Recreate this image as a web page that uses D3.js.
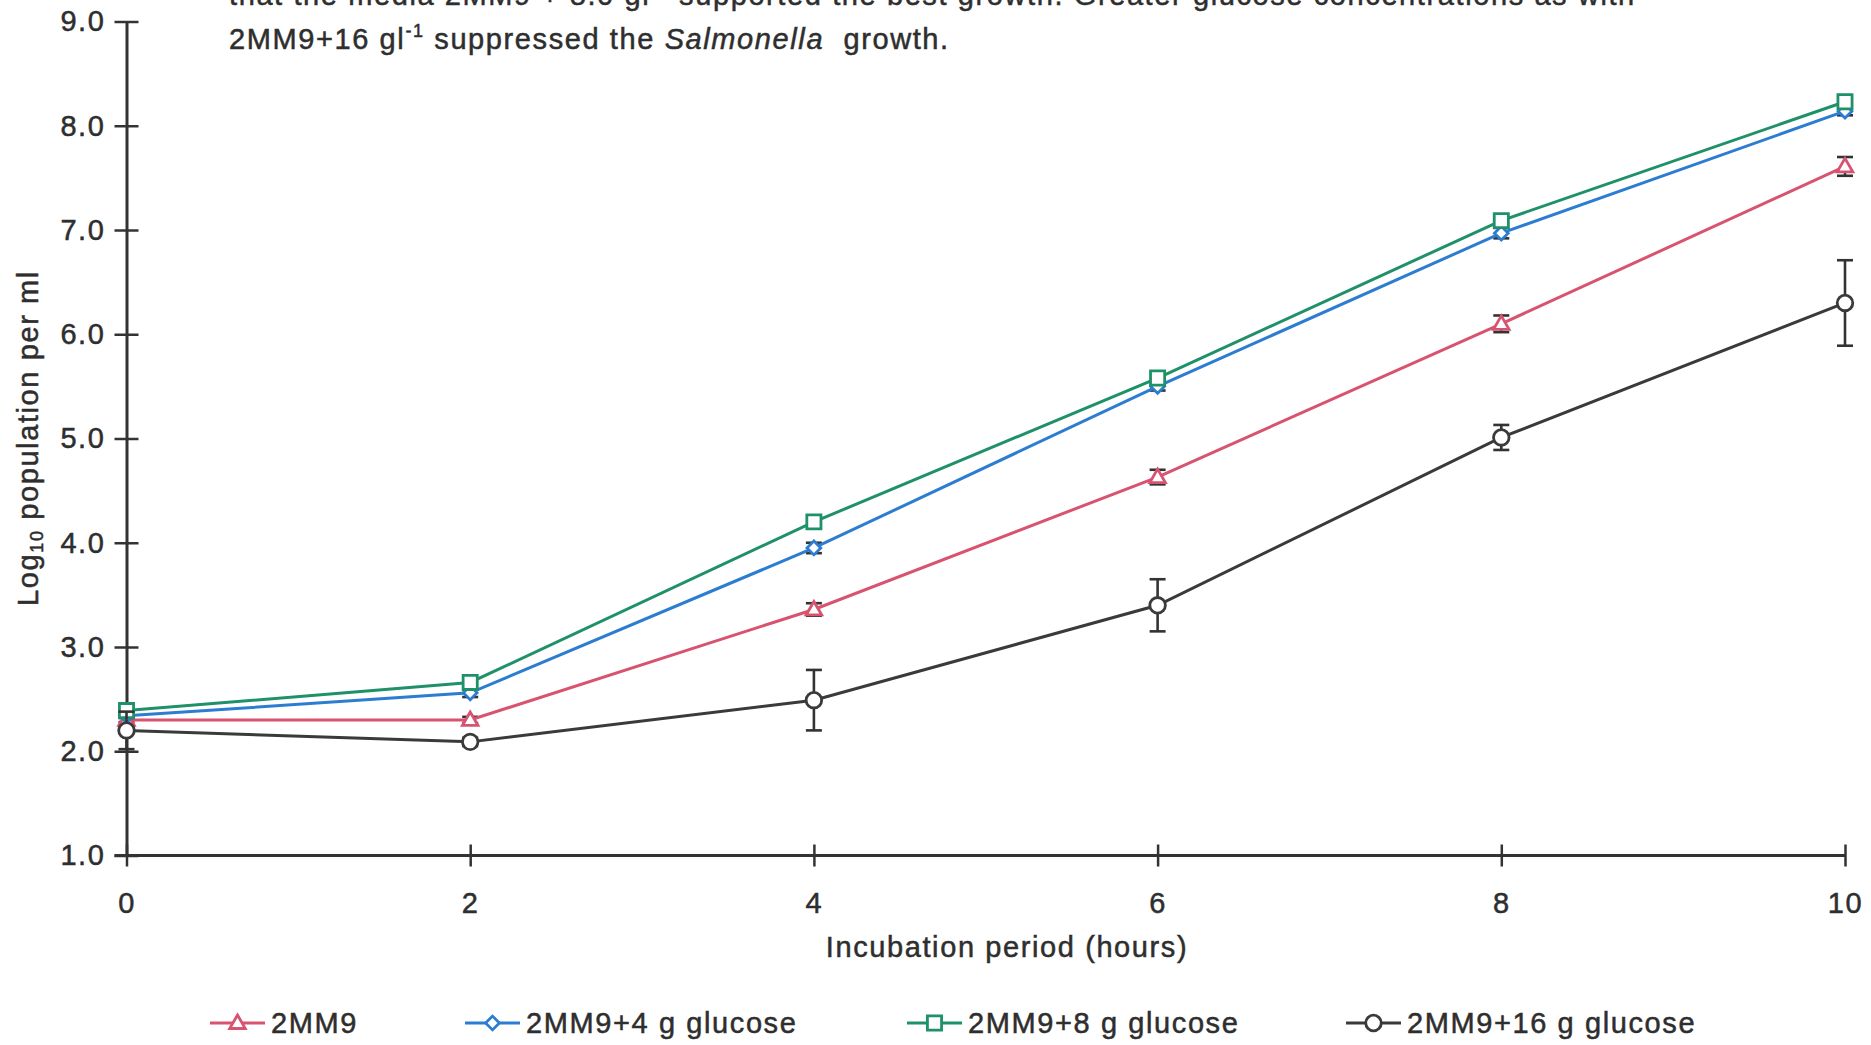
<!DOCTYPE html>
<html>
<head>
<meta charset="utf-8">
<script src="https://cdn.jsdelivr.net/npm/d3@7"></script>
<style>
  html, body { margin: 0; padding: 0; background: #fff; }
  svg { display: block; }
  text { font-family: "Liberation Sans", Arial, Helvetica, sans-serif; fill: #2e2e2e; stroke: #2e2e2e; stroke-width: 0.5px; letter-spacing: 1.6px; }
</style>
</head>
<body>
<script>
// ---------- data ----------
const hours = [0, 2, 4, 6, 8, 10];
const yTickValues = [1, 2, 3, 4, 5, 6, 7, 8, 9];
const seriesNames = ["2MM9", "2MM9+4 g glucose", "2MM9+8 g glucose", "2MM9+16 g glucose"];
const mm9      = [2.30, 2.30, 3.36, 4.63, 6.10, 7.61];
const mm9Err   = [0.02, 0.03, 0.06, 0.07, 0.08, 0.09];
const glu4     = [2.34, 2.56, 3.95, 5.50, 6.97, 8.14];
const glu4Err  = [0.02, 0.04, 0.05, 0.04, 0.05, 0.04];
const glu8     = [2.39, 2.66, 4.20, 5.58, 7.09, 8.23];
const glu8Err  = [0.00, 0.00, 0.00, 0.00, 0.00, 0.00];
const glu16    = [2.20, 2.09, 2.49, 3.40, 5.01, 6.30];
const glu16Err = [0.18, 0.04, 0.29, 0.25, 0.12, 0.41];
const xTitle = "Incubation period (hours)";
const captionLine1 = "that the media 2MM9 + 8.0 gl";
const captionLine1b = " supported the best growth. Greater glucose concentrations as with";
const captionLine2a = "2MM9+16 gl";
const captionLine2b = " suppressed the ";
const captionLine2c = "Salmonella";
const captionLine2d = "  growth.";

// ---------- setup ----------
const W = 1871, H = 1045;
const svg = d3.select("body").append("svg").attr("width", W).attr("height", H);

const x = d3.scaleLinear().domain([0, 10]).range([126.5, 1845]);
const y = d3.scaleLinear().domain([1, 9]).range([855.5, 21.5]);

const colors = ["#d8536f", "#2c7dd2", "#1f9168", "#3a3a3a"];
const values = [mm9, glu4, glu8, glu16];
const errs = [mm9Err, glu4Err, glu8Err, glu16Err];
const axisColor = "#333";
const fontSize = 29;

// ---------- caption text at top ----------
const cap1 = svg.append("text").attr("x", 229).attr("y", 5).attr("font-size", fontSize);
cap1.append("tspan").text(captionLine1);
cap1.append("tspan").attr("font-size", 18).attr("dy", -12).text("-1");
cap1.append("tspan").attr("dy", 12).text(captionLine1b);

const cap2 = svg.append("text").attr("x", 229).attr("y", 49).attr("font-size", fontSize);
cap2.append("tspan").text(captionLine2a);
cap2.append("tspan").attr("font-size", 18).attr("dy", -12).text("-1");
cap2.append("tspan").attr("dy", 12).text(captionLine2b);
cap2.append("tspan").attr("font-style", "italic").text(captionLine2c);
cap2.append("tspan").attr("xml:space", "preserve").text(captionLine2d);

// ---------- axes ----------
const yAxis = d3.axisLeft(y).tickValues(yTickValues).tickFormat(d3.format(".1f"))
  .tickSizeOuter(0).tickSizeInner(12).tickPadding(10);
const gy = svg.append("g").attr("transform", `translate(${x(0)},0)`).call(yAxis);
gy.select(".domain").attr("stroke", axisColor).attr("stroke-width", 3);
gy.selectAll(".tick line").attr("x1", -12).attr("x2", 12).attr("stroke", axisColor).attr("stroke-width", 2.5);
gy.selectAll(".tick text").attr("font-size", fontSize).attr("font-family", "Liberation Sans, Arial, sans-serif")
  .attr("fill", "#2e2e2e").attr("x", -21);

const xAxis = d3.axisBottom(x).tickValues(hours).tickFormat(d3.format("d"))
  .tickSizeOuter(0).tickSizeInner(12).tickPadding(10);
const gx = svg.append("g").attr("transform", `translate(0,${y(1)})`).call(xAxis);
gx.select(".domain").attr("stroke", axisColor).attr("stroke-width", 3)
  .attr("d", `M${x(0) - 12},0H${x(10)}`);
gx.selectAll(".tick line").attr("y1", -11).attr("y2", 11).attr("stroke", axisColor).attr("stroke-width", 2.5);
gx.selectAll(".tick text").attr("font-size", fontSize).attr("font-family", "Liberation Sans, Arial, sans-serif")
  .attr("fill", "#2e2e2e").attr("y", 37);

// axis titles
svg.append("text").attr("x", 1007).attr("y", 957).attr("text-anchor", "middle")
  .attr("font-size", fontSize).text(xTitle);

const yt = svg.append("text").attr("transform", `translate(38,438) rotate(-90)`)
  .attr("text-anchor", "middle").attr("font-size", fontSize);
yt.append("tspan").text("Log");
yt.append("tspan").attr("font-size", 18).attr("dy", 5).text("10");
yt.append("tspan").attr("dy", -5).text(" population per ml");

// ---------- markers ----------
function marker(g, i) {
  const c = colors[i];
  if (i === 0) {
    g.append("path").attr("d", d3.symbol().type(d3.symbolTriangle).size(105)())
      .attr("transform", "translate(0,1)");
  } else if (i === 1) {
    g.append("path").attr("d", d3.symbol().type(d3.symbolSquare).size(95)())
      .attr("transform", "rotate(45)");
  } else if (i === 2) {
    g.append("path").attr("d", d3.symbol().type(d3.symbolSquare).size(200)());
  } else {
    g.append("path").attr("d", d3.symbol().type(d3.symbolCircle).size(190)());
  }
  g.selectAll("path").attr("fill", "#fff").attr("stroke", c).attr("stroke-width", 2.8);
}

const line = d3.line().x((d, j) => x(hours[j])).y(d => y(d));

values.forEach((vals, i) => {
  const g = svg.append("g");
  // error bars
  const eb = g.append("g").selectAll("g").data(vals.map((v, j) => ({ v, e: errs[i][j], h: hours[j] })))
    .join("g").filter(d => d.e > 0);
  eb.append("line").attr("x1", d => x(d.h)).attr("x2", d => x(d.h))
    .attr("y1", d => y(d.v - d.e)).attr("y2", d => y(d.v + d.e))
    .attr("stroke", axisColor).attr("stroke-width", 2.6);
  eb.append("line").attr("x1", d => x(d.h) - 8).attr("x2", d => x(d.h) + 8)
    .attr("y1", d => y(d.v + d.e)).attr("y2", d => y(d.v + d.e))
    .attr("stroke", axisColor).attr("stroke-width", 2.6);
  eb.append("line").attr("x1", d => x(d.h) - 8).attr("x2", d => x(d.h) + 8)
    .attr("y1", d => y(d.v - d.e)).attr("y2", d => y(d.v - d.e))
    .attr("stroke", axisColor).attr("stroke-width", 2.6);
  // line
  g.append("path").datum(vals).attr("d", line).attr("fill", "none")
    .attr("stroke", colors[i]).attr("stroke-width", 3);
  // markers
  g.selectAll("g.mk").data(vals).join("g").attr("class", "mk")
    .attr("transform", (d, j) => `translate(${x(hours[j])},${y(d)})`)
    .each(function () { marker(d3.select(this), i); });
});

// ---------- legend ----------
const legendX = [210, 465, 907, 1346];
const legendY = 1023;
seriesNames.forEach((name, i) => {
  const g = svg.append("g").attr("transform", `translate(${legendX[i]},${legendY})`);
  g.append("line").attr("x1", 0).attr("x2", 55).attr("y1", 0).attr("y2", 0)
    .attr("stroke", colors[i]).attr("stroke-width", 3);
  const m = g.append("g").attr("transform", "translate(27.5,0)");
  marker(m, i);
  g.append("text").attr("x", 61).attr("y", 10).attr("font-size", fontSize).text(name);
});
</script>
</body>
</html>
